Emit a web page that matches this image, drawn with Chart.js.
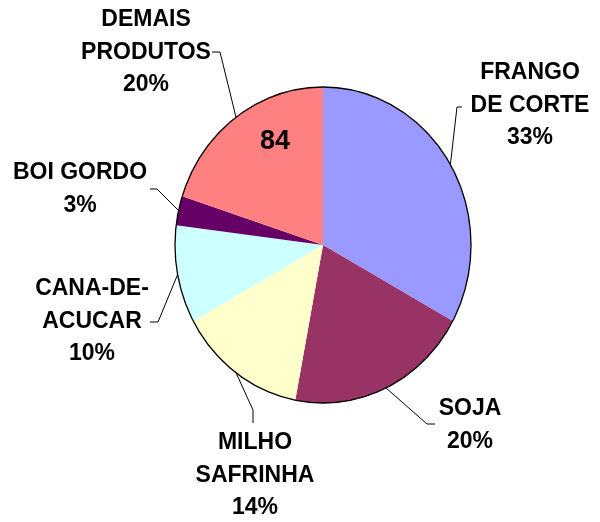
<!DOCTYPE html>
<html>
<head>
<meta charset="utf-8">
<script src="https://cdn.jsdelivr.net/npm/chart.js@4/dist/chart.umd.min.js"></script>
<style>
  html, body { margin: 0; padding: 0; background: #fff; }
  #wrap { width: 600px; height: 522px; }
</style>
</head>
<body>
<div id="wrap"><canvas id="pie"></canvas></div>
<script>
// ---- data ----
const categories = ['FRANGO DE CORTE', 'SOJA', 'MILHO SAFRINHA', 'CANA-DE-ACUCAR', 'BOI GORDO', 'DEMAIS PRODUTOS'];
const shares = [33, 20, 14, 10, 3, 20];
const sliceColors = ['#9999FF', '#993366', '#FFFFCC', '#CCFFFF', '#660066', '#FF8080'];
const innerNote = '84';

// ---- label layout (how each category name is broken and where it sits) ----
const labelLines = [['FRANGO', 'DE CORTE'], ['SOJA'], ['MILHO', 'SAFRINHA'], ['CANA-DE-', 'ACUCAR'], ['BOI GORDO'], ['DEMAIS', 'PRODUTOS']];
const labelPos = [
  { x: 530, y: 73,  tick: [462, 107, 457, 107] },
  { x: 470, y: 409, tick: [435, 424, 427, 424] },
  { x: 255, y: 443, tick: [253, 423, 253, 410] },
  { x: 92,  y: 289, tick: [150, 322, 158, 322] },
  { x: 80,  y: 173, tick: [150, 189, 157, 189] },
  { x: 146, y: 20,  tick: [212, 52, 220, 52] }
];
const LINE_H = 32.5;
const Y_STRETCH = 158 / 148; // the original pie is a little taller than wide

const total = shares.reduce((a, b) => a + b, 0);

// stretch the pie vertically and draw its outline
const ellipsePie = {
  id: 'ellipsePie',
  beforeDatasetsDraw(chart) {
    const arc = chart.getDatasetMeta(0).data[0];
    const ctx = chart.ctx;
    ctx.save();
    ctx.translate(arc.x, arc.y);
    ctx.scale(1, Y_STRETCH);
    ctx.translate(-arc.x, -arc.y);
  },
  afterDatasetsDraw(chart) {
    const arc = chart.getDatasetMeta(0).data[0];
    const ctx = chart.ctx;
    ctx.beginPath();
    ctx.arc(arc.x, arc.y, arc.outerRadius, 0, Math.PI * 2);
    ctx.lineWidth = 1.3;
    ctx.strokeStyle = '#000';
    ctx.stroke();
    ctx.restore();
  }
};

// category labels with leader lines
const pieLabels = {
  id: 'pieLabels',
  afterDraw(chart) {
    const ctx = chart.ctx;
    const arcs = chart.getDatasetMeta(0).data;
    ctx.save();
    ctx.fillStyle = '#000';
    ctx.strokeStyle = '#000';
    ctx.lineWidth = 1;
    ctx.textAlign = 'center';
    ctx.textBaseline = 'middle';

    arcs.forEach((arc, i) => {
      const p = labelPos[i];
      const mid = (arc.startAngle + arc.endAngle) / 2;
      const ex = arc.x + Math.cos(mid) * arc.outerRadius;
      const ey = arc.y + Math.sin(mid) * arc.outerRadius * Y_STRETCH;

      ctx.beginPath();
      ctx.moveTo(p.tick[0], p.tick[1]);
      ctx.lineTo(p.tick[2], p.tick[3]);
      ctx.lineTo(ex, ey);
      ctx.stroke();

      ctx.font = 'bold 23px "Liberation Sans", Arial, sans-serif';
      const lines = labelLines[i].concat([Math.round(shares[i] / total * 100) + '%']);
      lines.forEach((t, j) => ctx.fillText(t, p.x, p.y + j * LINE_H));
    });

    // number printed inside the last slice
    ctx.font = 'bold 27px "Liberation Sans", Arial, sans-serif';
    ctx.fillText(innerNote, 275, 142);
    ctx.restore();
  }
};

new Chart(document.getElementById('pie'), {
  type: 'pie',
  data: {
    labels: categories,
    datasets: [{
      data: shares,
      backgroundColor: sliceColors,
      borderWidth: 0
    }]
  },
  options: {
    responsive: true,
    maintainAspectRatio: false,
    animation: false,
    layout: { padding: { left: 175, right: 129, top: 97, bottom: 129 } },
    plugins: {
      legend: { display: false },
      tooltip: { enabled: false }
    }
  },
  plugins: [ellipsePie, pieLabels]
});
</script>
</body>
</html>
